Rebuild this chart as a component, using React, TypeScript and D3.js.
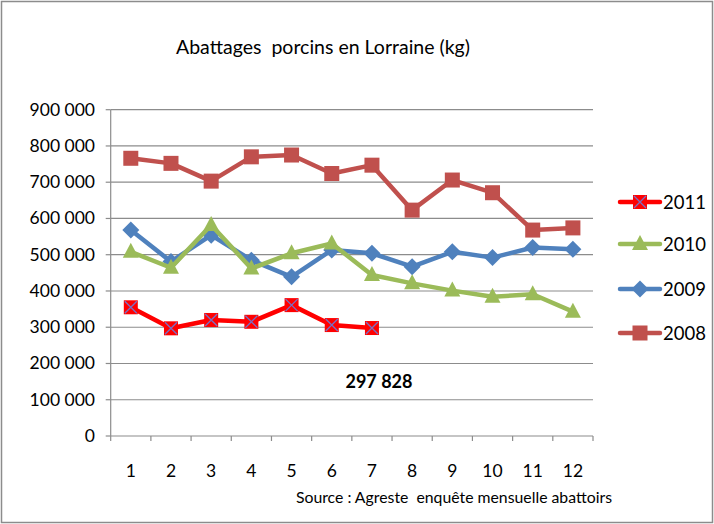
import React from "react";
import * as d3 from "d3";

const months = ["1", "2", "3", "4", "5", "6", "7", "8", "9", "10", "11", "12"];
const s2011 = [355000, 297000, 320000, 315000, 361000, 306000, 297828];
const s2010 = [508000, 464000, 582000, 462000, 504000, 531000, 444000, 421000, 401000, 384000, 391000, 343000];
const s2009 = [568000, 481000, 554000, 485000, 439000, 513000, 504000, 467000, 508000, 492000, 520000, 515000];
const s2008 = [766000, 752000, 703000, 770000, 775000, 724000, 747000, 623000, 706000, 671000, 568000, 574000];
const yTicks = [0, 100000, 200000, 300000, 400000, 500000, 600000, 700000, 800000, 900000];
const seriesNames = ["2011", "2010", "2009", "2008"];
const annotation = "297 828";

const W = 714, H = 524;
const FONT = "Lato, 'Open Sans', sans-serif";

const fmt = (v: number) => {
  if (v === 0) return "0";
  const s = String(v);
  return s.replace(/\B(?=(\d{3})+(?!\d))/g, " ");
};

type Marker = "xsquare" | "triangle" | "diamond" | "square";

function MarkerShape({ type, x, y, color }: { type: Marker; x: number; y: number; color: string }) {
  if (type === "square") {
    return <rect x={x - 7.5} y={y - 7.5} width={15} height={15} fill={color} />;
  }
  if (type === "diamond") {
    const r = 8.5;
    return <path d={`M${x},${y - r}L${x + r},${y}L${x},${y + r}L${x - r},${y}Z`} fill={color} />;
  }
  if (type === "triangle") {
    return <path d={`M${x},${y - 9}L${x + 8},${y + 6}L${x - 8},${y + 6}Z`} fill={color} />;
  }
  return (
    <g>
      <rect x={x - 7} y={y - 7} width={14} height={14} fill={color} />
      <path d={`M${x - 6},${y - 6}L${x + 6},${y + 6}M${x + 6},${y - 6}L${x - 6},${y + 6}`} stroke="#7A6FC4" strokeWidth={1.3} />
    </g>
  );
}

export default function App() {
  const x0 = 110.7, x1 = 593;
  const y = d3.scaleLinear().domain([0, 900000]).range([436, 109.7]);
  const x = d3.scaleBand().domain(months).range([x0, x1]);
  const cx = (i: number) => (x(months[i]) as number) + x.bandwidth() / 2;

  const series: { name: string; data: number[]; color: string; marker: Marker }[] = [
    { name: seriesNames[3], data: s2008, color: "#C0504D", marker: "square" },
    { name: seriesNames[2], data: s2009, color: "#4F81BD", marker: "diamond" },
    { name: seriesNames[1], data: s2010, color: "#9BBB59", marker: "triangle" },
    { name: seriesNames[0], data: s2011, color: "#FF0000", marker: "xsquare" },
  ];

  const line = d3
    .line<number>()
    .x((_, i) => cx(i))
    .y((d) => y(d));

  const legend = [
    { name: seriesNames[0], color: "#FF0000", marker: "xsquare" as Marker, y: 202 },
    { name: seriesNames[1], color: "#9BBB59", marker: "triangle" as Marker, y: 244 },
    { name: seriesNames[2], color: "#4F81BD", marker: "diamond" as Marker, y: 289 },
    { name: seriesNames[3], color: "#C0504D", marker: "square" as Marker, y: 333 },
  ];

  const boundaries = months.map((m) => x(m) as number).concat([x1]);

  return (
    <svg width={W} height={H} style={{ position: "absolute", left: 0, top: 0, background: "#fff" }} fontFamily={FONT}>
      <rect x={1.5} y={1.5} width={W - 3} height={H - 3} fill="#fff" stroke="#8C8C8C" strokeWidth={1.5} />
      <text x={323} y={54} textAnchor="middle" fontSize={19.5} fill="#000" style={{ whiteSpace: "pre" }}>
        {"Abattages  porcins en Lorraine (kg)"}
      </text>
      {yTicks.map((t) => (
        <g key={t}>
          {t > 0 && <line x1={x0} x2={x1} y1={y(t)} y2={y(t)} stroke="#8C8C8C" strokeWidth={1.2} />}
          <line x1={x0 - 5} x2={x0} y1={y(t)} y2={y(t)} stroke="#8C8C8C" strokeWidth={1.2} />
          <text x={95} y={y(t) + 6} textAnchor="end" fontSize={17.5} fill="#000">
            {fmt(t)}
          </text>
        </g>
      ))}
      <line x1={x0} x2={x0} y1={y(900000)} y2={y(0)} stroke="#8C8C8C" strokeWidth={1.2} />
      <line x1={x0} x2={x1} y1={y(0)} y2={y(0)} stroke="#8C8C8C" strokeWidth={1.2} />
      {boundaries.map((b, i) => (
        <line key={i} x1={b} x2={b} y1={y(0)} y2={y(0) + 5} stroke="#8C8C8C" strokeWidth={1.2} />
      ))}
      {months.map((m, i) => (
        <text key={m} x={cx(i)} y={477} textAnchor="middle" fontSize={17.5} fill="#000">
          {m}
        </text>
      ))}
      {series.map((s) => (
        <g key={s.name}>
          <path d={line(s.data) || ""} fill="none" stroke={s.color} strokeWidth={4.5} strokeLinejoin="round" />
          {s.data.map((v, i) => (
            <MarkerShape key={i} type={s.marker} x={cx(i)} y={y(v)} color={s.color} />
          ))}
        </g>
      ))}
      <text x={379} y={388} textAnchor="middle" fontSize={18} fontWeight="bold" fill="#000">
        {annotation}
      </text>
      {legend.map((l) => (
        <g key={l.name}>
          <line x1={620} x2={660} y1={l.y} y2={l.y} stroke={l.color} strokeWidth={4.5} strokeLinecap="round" />
          <MarkerShape type={l.marker} x={640} y={l.y} color={l.color} />
          <text x={663} y={l.y + 6.5} fontSize={18.5} fill="#000">
            {l.name}
          </text>
        </g>
      ))}
      <text x={612} y={503} textAnchor="end" fontSize={15.8} fill="#000" style={{ whiteSpace: "pre" }}>
        {"Source : Agreste  enquête mensuelle abattoirs"}
      </text>
    </svg>
  );
}
